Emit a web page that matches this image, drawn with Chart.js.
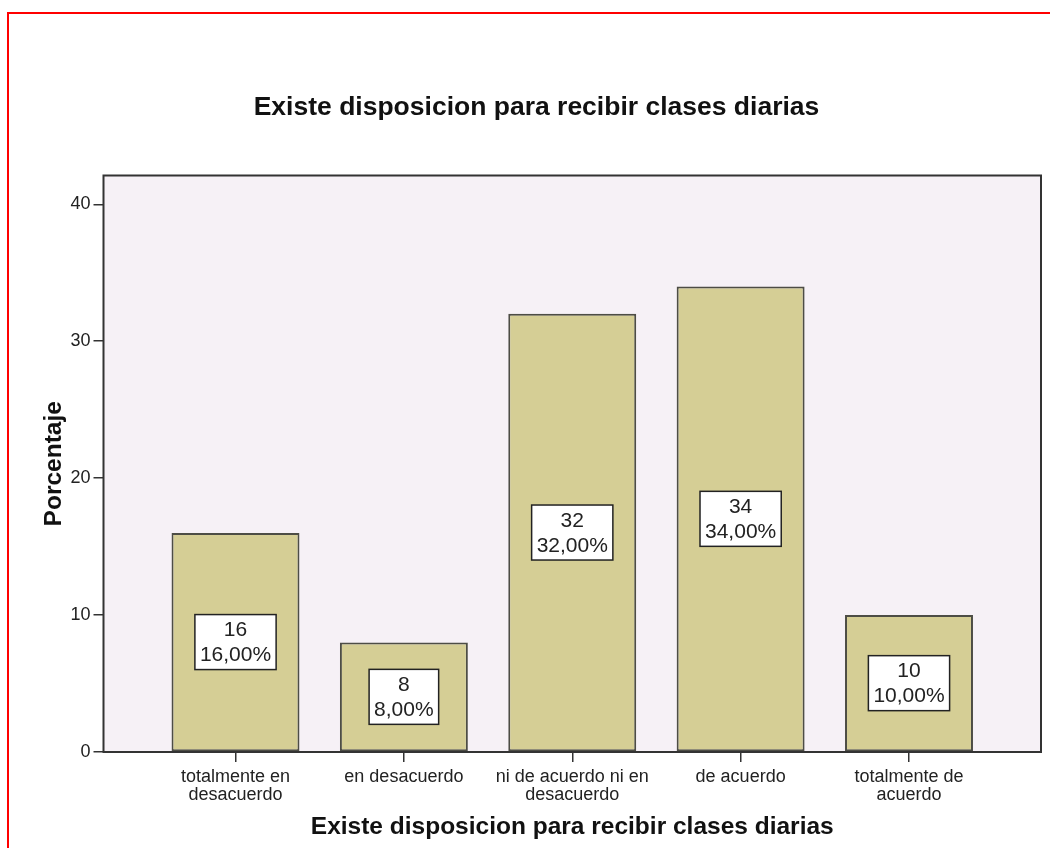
<!DOCTYPE html>
<html>
<head>
<meta charset="utf-8">
<script src="https://cdn.jsdelivr.net/npm/chart.js@4.4.1/dist/chart.umd.min.js"></script>
<style>
  html, body { margin: 0; padding: 0; background: #ffffff; }
  #wrap { position: relative; width: 1050px; height: 848px; overflow: hidden; }
  #frame { position: absolute; left: 7px; top: 12px; width: 1200px; height: 1000px; border: 2px solid #ff0000; box-sizing: border-box; }
  canvas { position: absolute; left: 0; top: 0; }
</style>
</head>
<body>
<div id="wrap">
  <div id="frame"></div>
  <canvas id="c" width="1050" height="848"></canvas>
</div>
<script>
const chartTitle = 'Existe disposicion para recibir clases diarias';
const xAxisTitle = 'Existe disposicion para recibir clases diarias';
const yAxisTitle = 'Porcentaje';
const categories = [
  ['totalmente en', 'desacuerdo'],
  ['en desacuerdo'],
  ['ni de acuerdo ni en', 'desacuerdo'],
  ['de acuerdo'],
  ['totalmente de', 'acuerdo']
];
const counts = [16, 8, 32, 34, 10];
const percents = [16, 8, 32, 34, 10];
const yTicks = [0, 10, 20, 30, 40];
const yMax = 42.1;

const FONT = '"Liberation Sans", Arial, sans-serif';

const plotBg = {
  id: 'plotBg',
  beforeDatasetsDraw(chart) {
    const { ctx, chartArea: a } = chart;
    ctx.save();
    ctx.fillStyle = '#f6f1f6';
    ctx.fillRect(a.left, a.top, a.right - a.left, a.bottom - a.top);
    ctx.restore();
  },
  afterDatasetsDraw(chart) {
    const { ctx, chartArea: a } = chart;
    ctx.save();
    ctx.strokeStyle = '#333333';
    ctx.lineWidth = 2;
    ctx.strokeRect(a.left, a.top, a.right - a.left, a.bottom - a.top);
    ctx.restore();
  }
};

const boxLabels = {
  id: 'boxLabels',
  afterDraw(chart) {
    const { ctx } = chart;
    const meta = chart.getDatasetMeta(0);
    ctx.save();
    ctx.font = '21px ' + FONT;
    ctx.textAlign = 'center';
    ctx.textBaseline = 'middle';
    meta.data.forEach((bar, i) => {
      const l1 = String(counts[i]);
      const l2 = percents[i].toFixed(2).replace('.', ',') + '%';
      const w = Math.max(ctx.measureText(l1).width, ctx.measureText(l2).width) + 10;
      const lh = 25;
      const h = 2 * lh + 5;
      const cx = bar.x;
      const cy = (bar.y + bar.base) / 2;
      ctx.fillStyle = '#ffffff';
      ctx.fillRect(cx - w / 2, cy - h / 2, w, h);
      ctx.strokeStyle = '#222222';
      ctx.lineWidth = 1.5;
      ctx.strokeRect(cx - w / 2, cy - h / 2, w, h);
      ctx.fillStyle = '#222222';
      ctx.fillText(l1, cx, cy - lh / 2 + 1);
      ctx.fillText(l2, cx, cy + lh / 2 + 1);
    });
    ctx.restore();
  }
};

new Chart(document.getElementById('c'), {
  type: 'bar',
  data: {
    datasets: [{
      data: counts.map((v, i) => ({ x: i, y: percents[i] })),
      backgroundColor: '#d5ce95',
      borderColor: '#4d4d45',
      borderWidth: 2,
      borderSkipped: false,
      categoryPercentage: 1,
      barPercentage: 0.76
    }]
  },
  options: {
    responsive: false,
    animation: false,
    devicePixelRatio: 1,
    layout: { padding: { left: 32, right: 9, top: 0, bottom: 0 } },
    plugins: {
      legend: { display: false },
      tooltip: { enabled: false },
      title: {
        display: true,
        text: chartTitle,
        color: '#111111',
        font: { family: FONT, size: 26.5, weight: 'bold', lineHeight: 1.2 },
        padding: { top: 92, bottom: 51.7 }
      }
    },
    scales: {
      x: {
        type: 'linear',
        min: -0.784,
        max: categories.length - 1 + 0.784,
        offset: false,
        afterBuildTicks(scale) { scale.ticks = categories.map((_, i) => ({ value: i })); },
        afterFit(scale) { scale.height = 96; },
        ticks: {
          autoSkip: false,
          maxRotation: 0,
          padding: 6,
          color: '#222222',
          font: { family: FONT, size: 18, lineHeight: 1.0 },
          callback: (v) => categories[v] || ''
        },
        grid: { display: true, offset: false, drawOnChartArea: false, drawTicks: true, tickLength: 10, color: '#333333', lineWidth: 1.5 },
        border: { display: false },
        title: {
          display: true,
          text: xAxisTitle,
          color: '#111111',
          font: { family: FONT, size: 24.5, weight: 'bold', lineHeight: 1.2 },
          padding: { top: 0, bottom: 6.3 }
        }
      },
      y: {
        min: 0,
        max: yMax,
        afterBuildTicks(scale) { scale.ticks = yTicks.map(v => ({ value: v })); },
        afterFit(scale) { scale.width = 71.5; },
        ticks: {
          padding: 3,
          color: '#222222',
          font: { family: FONT, size: 18 }
        },
        grid: { display: true, offset: false, drawOnChartArea: false, drawTicks: true, tickLength: 10, color: '#333333', lineWidth: 1.5 },
        border: { display: false },
        title: {
          display: true,
          text: yAxisTitle,
          color: '#111111',
          font: { family: FONT, size: 24.5, weight: 'bold', lineHeight: 1.2 },
          padding: { top: 7.3, bottom: 0 }
        }
      }
    }
  },
  plugins: [plotBg, boxLabels]
});
</script>
</body>
</html>
